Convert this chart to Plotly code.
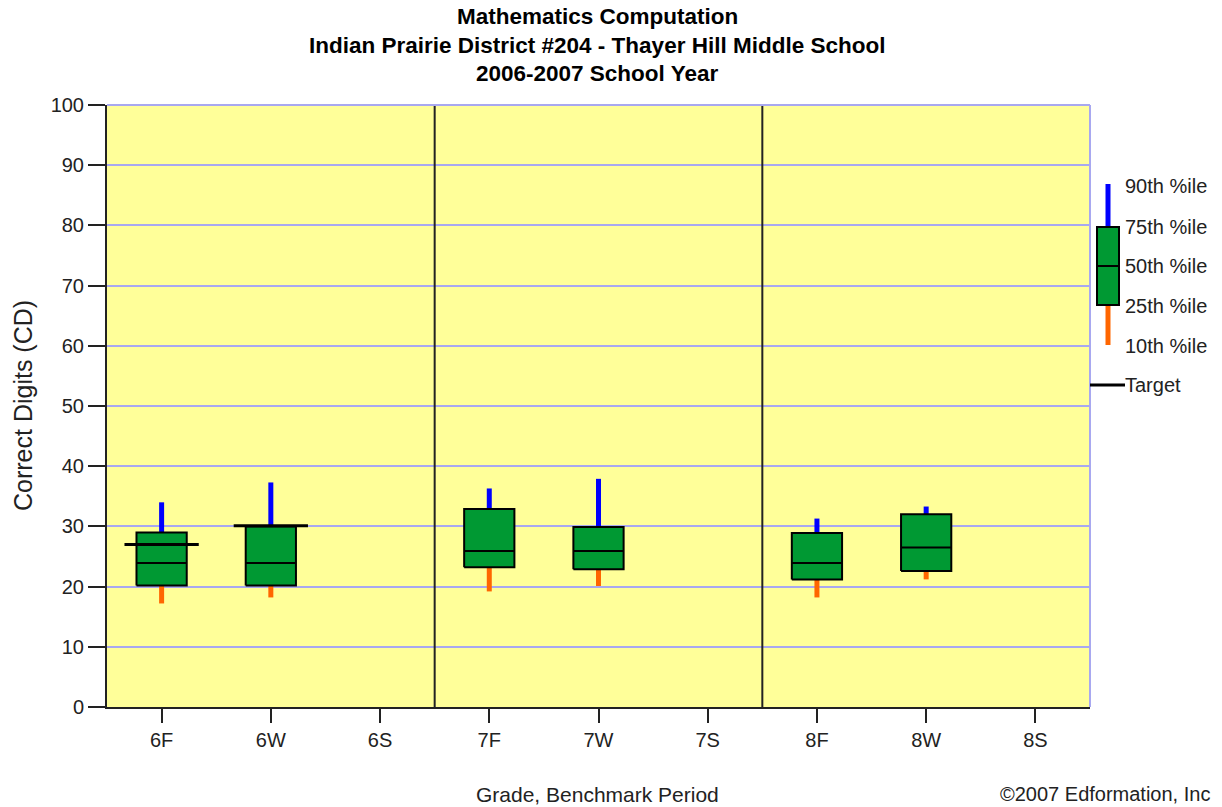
import plotly.graph_objects as go

# ---- data ----
categories = ["6F", "6W", "6S", "7F", "7W", "7S", "8F", "8W", "8S"]
p10 = [17.2, 18.2, None, 19.2, 20.1, None, 18.2, 21.2, None]
p25 = [20.2, 20.2, None, 23.2, 22.9, None, 21.2, 22.6, None]
p50 = [23.9, 23.9, None, 25.9, 25.9, None, 23.9, 26.5, None]
p75 = [29.0, 30.0, None, 32.9, 29.9, None, 28.9, 32.0, None]
p90 = [34.0, 37.3, None, 36.3, 37.9, None, 31.3, 33.3, None]
target = [27.0, 30.1, None, None, None, None, None, None, None]
grade_breaks = [2.5, 5.5]
legend_labels = ["90th %ile", "75th %ile", "50th %ile", "25th %ile", "10th %ile", "Target"]

BOX_W = 0.46
TGT_W = 0.68
GREEN = "#009933"
BLUE = "#0000ff"
ORANGE = "#ff6600"
GRID = "#a8a8f0"
FONT = "Liberation Sans, Arial, sans-serif"

# plot area in pixels (for paper-coordinate decorations)
L, R, T, B = 107, 1090, 105, 707
def px(x):
    return (x - L) / (R - L)
def py(y):
    return (B - y) / (B - T)

idx = list(range(len(categories)))

# whiskers
ux, uy, lx, ly = [], [], [], []
for i in idx:
    if p75[i] is None:
        continue
    ux += [i, i, None]; uy += [p75[i], p90[i], None]
    lx += [i, i, None]; ly += [p10[i], p25[i], None]

# boxes
bx, by = [], []
mx, my = [], []
for i in idx:
    if p75[i] is None:
        continue
    a, b = i - BOX_W / 2, i + BOX_W / 2
    bx += [a, b, b, a, a, None]
    by += [p25[i], p25[i], p75[i], p75[i], p25[i], None]
    mx += [a, b, None]
    my += [p50[i], p50[i], None]

tx, ty = [], []
for i in idx:
    if target[i] is None:
        continue
    tx += [i - TGT_W / 2, i + TGT_W / 2, None]
    ty += [target[i], target[i], None]

fig = go.Figure()
fig.add_trace(go.Scatter(x=ux, y=uy, mode="lines", line=dict(color=BLUE, width=5), hoverinfo="skip"))
fig.add_trace(go.Scatter(x=lx, y=ly, mode="lines", line=dict(color=ORANGE, width=5), hoverinfo="skip"))
fig.add_trace(go.Scatter(x=bx, y=by, mode="lines", fill="toself", fillcolor=GREEN,
                         line=dict(color="black", width=2), hoverinfo="skip"))
fig.add_trace(go.Scatter(x=mx, y=my, mode="lines", line=dict(color="black", width=2), hoverinfo="skip"))
fig.add_trace(go.Scatter(x=tx, y=ty, mode="lines", line=dict(color="black", width=3), hoverinfo="skip"))

shapes = []
for g in grade_breaks:
    shapes.append(dict(type="line", xref="x", yref="y", x0=g, x1=g, y0=0, y1=100,
                       line=dict(color="#222", width=2)))
# light-blue top/right border
shapes.append(dict(type="line", xref="paper", yref="paper", x0=1, x1=1, y0=0, y1=1,
                   line=dict(color=GRID, width=2)))
shapes.append(dict(type="line", xref="paper", yref="paper", x0=0, x1=1, y0=1, y1=1,
                   line=dict(color=GRID, width=2)))

# legend glyph
shapes.append(dict(type="line", xref="paper", yref="paper", x0=px(1108), x1=px(1108),
                   y0=py(184), y1=py(227), line=dict(color=BLUE, width=5)))
shapes.append(dict(type="line", xref="paper", yref="paper", x0=px(1108), x1=px(1108),
                   y0=py(305), y1=py(345), line=dict(color=ORANGE, width=5)))
shapes.append(dict(type="rect", xref="paper", yref="paper", x0=px(1097), x1=px(1119),
                   y0=py(305), y1=py(227), fillcolor=GREEN, line=dict(color="black", width=2)))
shapes.append(dict(type="line", xref="paper", yref="paper", x0=px(1097), x1=px(1119),
                   y0=py(266), y1=py(266), line=dict(color="black", width=2)))
shapes.append(dict(type="line", xref="paper", yref="paper", x0=px(1090), x1=px(1125),
                   y0=py(385), y1=py(385), line=dict(color="black", width=3)))

ann = []
leg_y = [186, 227, 266, 306, 346, 385]
for lab, yy in zip(legend_labels, leg_y):
    ann.append(dict(text=lab, xref="paper", yref="paper", x=px(1123), y=py(yy),
                    xanchor="left", yanchor="middle", showarrow=False,
                    font=dict(size=20, color="#222", family=FONT)))
titles = ["Mathematics Computation",
          "Indian Prairie District #204 - Thayer Hill Middle School",
          "2006-2007 School Year"]
for t, yy in zip(titles, [17, 45, 73]):
    ann.append(dict(text="<b>" + t + "</b>", xref="paper", yref="paper", x=px(597), y=py(yy),
                    xanchor="center", yanchor="middle", showarrow=False,
                    font=dict(size=22.5, color="black", family=FONT)))
ann.append(dict(text="Correct Digits (CD)", xref="paper", yref="paper", x=px(23), y=0.5,
                textangle=-90, xanchor="center", yanchor="middle", showarrow=False,
                font=dict(size=25, color="#222", family=FONT)))
ann.append(dict(text="Grade, Benchmark Period", xref="paper", yref="paper", x=px(597), y=py(794),
                xanchor="center", yanchor="middle", showarrow=False,
                font=dict(size=21, color="#222", family=FONT)))
ann.append(dict(text="©2007 Edformation, Inc", xref="paper", yref="paper", x=px(1212), y=py(794),
                xanchor="right", yanchor="middle", showarrow=False,
                font=dict(size=20, color="#222", family=FONT)))

fig.update_layout(
    width=1222, height=807,
    margin=dict(l=L, r=1222 - R, t=T, b=807 - B),
    paper_bgcolor="white", plot_bgcolor="#ffff99",
    showlegend=False,
    shapes=shapes, annotations=ann,
    font=dict(family=FONT, size=20, color="#222"),
)
fig.update_xaxes(range=[-0.5, 8.5], tickvals=idx, ticktext=categories, showgrid=False,
                 zeroline=False, showline=True, linecolor="#222", linewidth=2,
                 ticks="outside", ticklen=14, tickwidth=2, tickcolor="#222",
                 tickfont=dict(size=20))
fig.update_yaxes(range=[0, 100], dtick=10, showgrid=True, gridcolor=GRID, gridwidth=2,
                 zeroline=False, showline=True, linecolor="#222", linewidth=2,
                 ticks="outside", ticklen=17, tickwidth=2, tickcolor="#222",
                 tickfont=dict(size=20))

fig.write_html("out.html", config={"displayModeBar": False},
               post_script="document.body.style.margin='0';document.body.style.overflow='hidden';")
